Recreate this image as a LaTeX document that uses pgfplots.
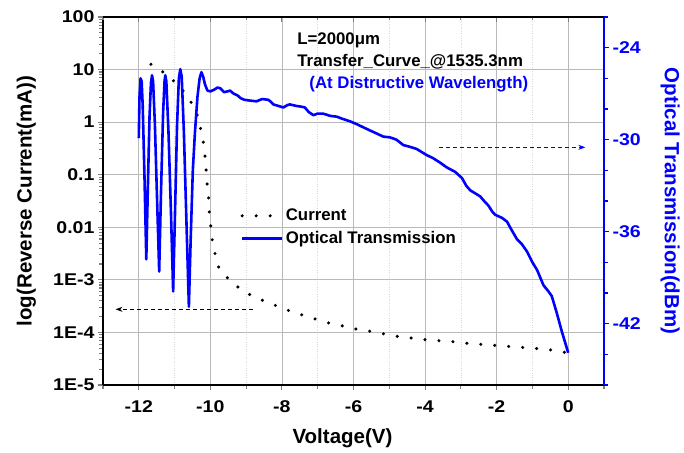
\documentclass[border=0pt]{standalone}
\usepackage{pgfplots}
\pgfplotsset{compat=1.18}
\usepackage{fontspec}
\setmainfont{Liberation Sans}
\newfontfamily\tickfont{Liberation Sans}[FakeStretch=1.15]
\usetikzlibrary{arrows.meta}

\newcommand{\ticksize}{\tickfont\bfseries\fontsize{17bp}{20bp}\selectfont}
\newcommand{\labsize}{\bfseries\fontsize{20.5bp}{24bp}\selectfont}
\newcommand{\txtsize}{\bfseries\fontsize{16.8bp}{20bp}\selectfont}

\pgfplotsset{
  base/.style={scale only axis, width=501bp, height=368bp,
    xmin=-13, xmax=1,
    tick align=outside, major tick length=5bp, minor tick length=3.5bp,
    every tick/.append style={line width=1.1bp},
    /pgf/number format/assume math mode=true,
    tick label style={font=\ticksize},
    axis line style={line width=1.4bp},
    clip mode=individual},
}

\begin{document}
\begin{tikzpicture}
% left axis: current, log scale
\begin{axis}[base, ymode=log, ymin=1e-5, ymax=100,
  axis x line*=bottom, axis y line*=left,
  xtick={-12,-10,...,0}, minor xtick={-13,-11,...,1},
  xticklabel style={yshift=-7bp},
  ytick={1e-5,1e-4,1e-3,1e-2,1e-1,1,10,100},
  yticklabels={1E-5,1E-4,1E-3,0.01,0.1,1,10,100},
  minor ytick={0.00002,0.00003,0.00004,0.00005,0.00006,0.00007,0.00008,0.00009,
               0.0002,0.0003,0.0004,0.0005,0.0006,0.0007,0.0008,0.0009,
               0.002,0.003,0.004,0.005,0.006,0.007,0.008,0.009,
               0.02,0.03,0.04,0.05,0.06,0.07,0.08,0.09,
               0.2,0.3,0.4,0.5,0.6,0.7,0.8,0.9,
               2,3,4,5,6,7,8,9, 20,30,40,50,60,70,80,90},
  xmajorgrids, xminorgrids, ymajorgrids,
  major grid style={gray!55, line width=0.8bp},
  minor grid style={gray!30, dotted, line width=0.6bp},
  xlabel={Voltage(V)}, ylabel={log(Reverse Current(mA))},
  xlabel style={font=\labsize, at={(axis description cs:0.478,-0.160)}, anchor=base},
  ylabel style={font=\labsize, at={(axis description cs:-0.153,0.5)}, anchor=center},
  legend style={at={(0.274,0.489)}, anchor=north west, draw=none, fill=none,
    font=\txtsize, row sep=5bp, inner xsep=0pt},
  legend cell align=left,
  legend image code/.code={\draw[#1] (0bp,0bp) -- (40bp,0bp);},
]
\coordinate (O) at (rel axis cs:0,0);
\addplot[black, line width=3.4bp, line cap=round, dash pattern=on 0bp off 14bp]
coordinates {
(-11.66,12.6)(-11.27,8.5)(-10.87,4.9)(-10.58,2.7)(-10.38,1.48)(-10.28,0.79)
(-10.20,0.437)(-10.15,0.229)(-10.12,0.126)(-10.09,0.0676)(-10.05,0.0372)
(-10.03,0.0195)(-9.99,0.0107)(-9.95,0.00589)(-9.87,0.00316)(-9.76,0.00166)
(-9.43,0.000933)(-9.05,0.000589)(-8.65,0.000437)(-8.24,0.000339)(-7.87,0.000269)
(-7.47,0.000219)(-7.09,0.000182)(-6.69,0.000151)(-6.29,0.000132)(-5.90,0.000115)
(-5.52,0.000105)(-5.13,9.33e-5)(-4.74,8.32e-5)(-4.34,7.76e-5)(-3.94,7.24e-5)
(-3.55,6.92e-5)(-3.16,6.61e-5)(-2.77,6.17e-5)(-2.38,5.89e-5)(-1.99,5.62e-5)
(-1.59,5.37e-5)(-1.20,5.13e-5)(-0.81,4.9e-5)(-0.40,4.57e-5)(0,4.07e-5)
};
\addlegendentry{Current}
\addlegendimage{blue, line width=2.6bp}
\addlegendentry{Optical Transmission}
\draw[black, line width=0.9bp, dash pattern=on 4bp off 3bp, -{Stealth[length=7bp,width=5bp]}]
  (axis cs:-8.82,2.75e-4) -- (axis cs:-12.65,2.75e-4);
\node[anchor=base west, font=\txtsize] at (rel axis cs:0.381,0.924) {L=2000μm};
\node[anchor=base west, font=\txtsize] at (rel axis cs:0.381,0.865) {Transfer\_Curve\_@1535.3nm};
\node[anchor=base west, font=\txtsize, text=blue] at (rel axis cs:0.405,0.807) {(At Distructive Wavelength)};
\end{axis}
% top frame with inner ticks
\begin{axis}[base, ymin=0, ymax=1, axis x line*=top, hide y axis, tick align=inside,
  xtick={-12,-10,...,0}, minor xtick={-13,-11,...,1}, xticklabels={}]
\end{axis}
% right axis: optical transmission
\begin{axis}[base, ymin=-46, ymax=-22, axis y line*=right, hide x axis,
  ytick={-42,-36,-30,-24}, minor ytick={-46,-44,...,-22},
  y axis line style={blue}, every tick/.append style={blue},
  yticklabel style={text=blue},
  ylabel={Optical Transmission(dBm)},
  ylabel style={font=\labsize, text=blue, at={(axis description cs:1.132,0.5)}, rotate=180, anchor=center},
]
\addplot[blue, line width=2.6bp, line join=round] coordinates {
(-12.00,-29.9)(-11.98,-27.2)(-11.95,-26.0)(-11.92,-26.2)(-11.89,-27.8)(-11.84,-32.5)
(-11.79,-37.8)(-11.75,-33.5)(-11.70,-28.5)(-11.66,-26.3)(-11.63,-25.8)(-11.60,-26.2)
(-11.55,-29.0)(-11.49,-33.8)(-11.43,-38.6)(-11.38,-33.5)(-11.32,-28.2)(-11.28,-26.2)
(-11.26,-25.8)(-11.23,-26.2)(-11.17,-29.5)(-11.10,-34.8)(-11.04,-39.9)(-10.99,-35.0)
(-10.93,-29.0)(-10.88,-26.0)(-10.84,-25.4)(-10.80,-25.9)(-10.74,-29.5)(-10.67,-35.2)
(-10.60,-40.9)(-10.55,-36.5)(-10.49,-32.0)(-10.43,-29.5)(-10.36,-27.2)(-10.30,-26.0)
(-10.25,-25.6)(-10.20,-25.9)(-10.15,-26.4)(-10.08,-26.8)(-10.00,-26.85)(-9.90,-26.75)
(-9.80,-26.6)(-9.72,-26.65)(-9.62,-26.9)(-9.52,-26.85)(-9.45,-26.8)(-9.35,-27.0)
(-9.25,-27.1)(-9.15,-27.3)(-9.05,-27.4)(-8.90,-27.45)(-8.71,-27.5)(-8.55,-27.35)
(-8.38,-27.4)(-8.30,-27.55)(-8.24,-27.7)(-8.10,-27.8)(-7.96,-27.9)(-7.85,-27.75)
(-7.78,-27.7)(-7.60,-27.8)(-7.45,-27.85)(-7.36,-27.9)(-7.25,-28.2)(-7.12,-28.4)
(-7.00,-28.3)(-6.85,-28.3)(-6.65,-28.45)(-6.47,-28.5)(-6.30,-28.65)(-6.10,-28.8)
(-5.90,-29.0)(-5.72,-29.2)(-5.54,-29.4)(-5.35,-29.6)(-5.17,-29.8)(-4.98,-29.85)
(-4.80,-30.0)(-4.61,-30.35)(-4.45,-30.45)(-4.24,-30.6)(-4.10,-30.8)(-3.96,-31.0)
(-3.78,-31.2)(-3.58,-31.5)(-3.40,-31.8)(-3.16,-32.1)(-2.97,-32.5)(-2.85,-33.0)
(-2.74,-33.3)(-2.60,-33.5)(-2.46,-33.7)(-2.35,-34.0)(-2.23,-34.3)(-2.12,-34.7)
(-2.04,-34.9)(-1.85,-35.1)(-1.71,-35.35)(-1.58,-35.9)(-1.43,-36.5)(-1.30,-36.8)
(-1.15,-37.3)(-1.00,-38.0)(-0.87,-38.5)(-0.69,-39.5)(-0.55,-39.9)(-0.46,-40.2)
(-0.32,-41.3)(-0.18,-42.5)(0,-43.9)
};
\draw[blue, line width=0.9bp, dash pattern=on 4bp off 3bp, -{Stealth[length=7bp,width=5bp]}]
  (axis cs:-3.60,-30.5) -- (axis cs:0.48,-30.5);
\end{axis}
\pgfresetboundingbox
\path ([shift={(-103bp,-68bp)}]O) rectangle ([shift={(581bp,385bp)}]O);
\end{tikzpicture}
\end{document}
